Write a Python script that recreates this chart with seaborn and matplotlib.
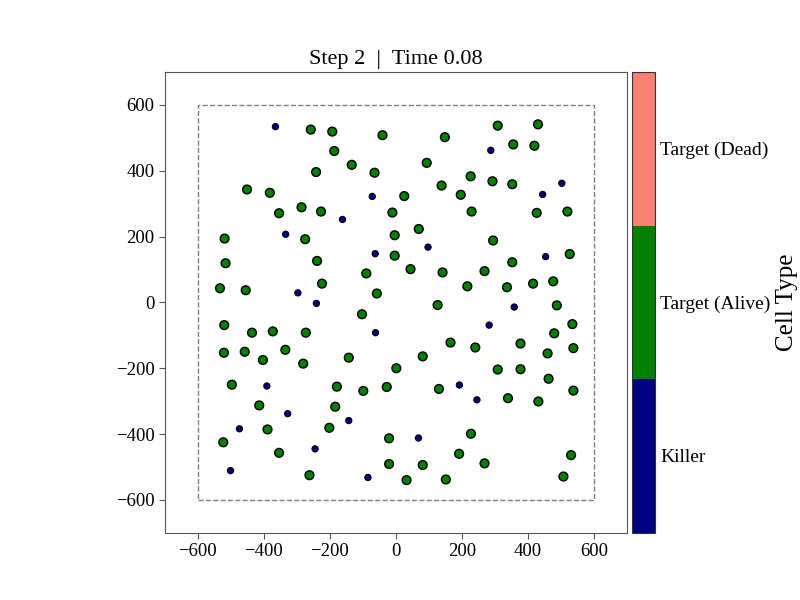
import numpy as np
import pandas as pd
import matplotlib
matplotlib.use("Agg")
import matplotlib.pyplot as plt
from matplotlib.colors import ListedColormap, BoundaryNorm
from matplotlib.cm import ScalarMappable
from matplotlib.patches import Rectangle
import seaborn as sns

# -----------------------
# Data
# -----------------------
killer_x = [-365, -72, -162, -334, -63, -297, -241, 287, 502, 444, 97, 453, 358,
            -62, -391, -328, -143, -474, -245, -501, -85, 282, 192, 245, 68]
killer_y = [534, 322, 252, 207, 148, 29, -3, 462, 362, 328, 168, 139, -14,
            -92, -254, -338, -359, -384, -445, -511, -532, -69, -251, -296, -412]

alive_x = [-258, -193, -41, -187, -134, -242, -65, -451, -382, -286, -354, -227,
           -11, -519, -275, -4, -4, -516, -239, -90, -533, -455, -224, -58,
           308, 430, 148, 355, 419, 93, 226, 138, 292, 352, 25, 196,
           229, 426, 519, 69, 294, 44, 141, 216, 268, 336, 352, 415,
           476, 526, 126, 487,
           -103, -520, -436, -373, -273, -521, -458, -403, -335, -281, -143, 1,
           -497, -179, -99, -28, -414, -184, -389, -202, -523, -21, -354, -21,
           -262,
           534, 479, 165, 240, 377, 459, 537, 81, 308, 377, 462, 130,
           339, 431, 537, 227, 191, 81, 268, 530, 32, 151, 507]
alive_y = [525, 519, 508, 460, 418, 396, 394, 343, 333, 289, 271, 276,
           273, 194, 192, 204, 142, 119, 126, 88, 43, 37, 57, 27,
           537, 541, 502, 480, 476, 424, 383, 355, 368, 359, 323, 327,
           276, 272, 276, 223, 188, 101, 91, 49, 95, 46, 122, 57,
           64, 147, -8, -9,
           -36, -69, -92, -88, -92, -153, -150, -175, -144, -186, -168, -200,
           -250, -256, -269, -257, -313, -317, -386, -381, -425, -413, -457, -491,
           -525,
           -66, -94, -122, -137, -125, -155, -139, -164, -204, -203, -232, -263,
           -291, -301, -268, -399, -460, -494, -489, -464, -540, -538, -529]

dead_x = []
dead_y = []

cell_types = ["Killer", "Target (Alive)", "Target (Dead)"]
type_colors = ["navy", "green", "salmon"]
domain_half = 600
step, time_val = 2, 0.08

df = pd.concat([
    pd.DataFrame({"x": killer_x, "y": killer_y, "type": "Killer"}),
    pd.DataFrame({"x": alive_x, "y": alive_y, "type": "Target (Alive)"}),
    pd.DataFrame({"x": dead_x, "y": dead_y, "type": "Target (Dead)"}),
], ignore_index=True)

sns.set_style("ticks")
plt.rcParams["font.family"] = ["Liberation Serif", "DejaVu Serif"]
plt.rcParams["text.color"] = "black"
plt.rcParams["axes.labelcolor"] = "black"
plt.rcParams["axes.edgecolor"] = "#555555"
plt.rcParams["xtick.color"] = "#555555"
plt.rcParams["ytick.color"] = "#555555"
plt.rcParams["xtick.labelcolor"] = "black"
plt.rcParams["ytick.labelcolor"] = "black"

fig = plt.figure(figsize=(8, 6), dpi=100)
ax = fig.add_axes([0.206, 0.112, 0.578, 0.768])
cax = fig.add_axes([0.790, 0.112, 0.029, 0.768])

palette = dict(zip(cell_types, type_colors))
killers = df[df["type"] == "Killer"]
targets = df[df["type"] != "Killer"]
sns.scatterplot(data=targets, x="x", y="y", hue="type", palette=palette,
                s=40, edgecolor="black", linewidth=1, legend=False, ax=ax, zorder=3)
sns.scatterplot(data=killers, x="x", y="y", hue="type", palette=palette,
                s=20, edgecolor="black", linewidth=0.8, legend=False, ax=ax, zorder=3)

ax.add_patch(Rectangle((-domain_half, -domain_half), 2 * domain_half, 2 * domain_half,
                       fill=False, linestyle="--", edgecolor="gray", linewidth=1))

ax.set_xlim(-700, 700)
ax.set_ylim(-700, 700)
ax.set_xticks([-600, -400, -200, 0, 200, 400, 600])
ax.set_yticks([-600, -400, -200, 0, 200, 400, 600])
ax.set_xlabel("")
ax.set_ylabel("")
ax.tick_params(labelsize=13.5, length=4)
ax.set_title(f"Step {step}  |  Time {time_val:.2f}", fontsize=16, color="black")

cmap = ListedColormap(type_colors)
norm = BoundaryNorm([-0.5, 0.5, 1.5, 2.5], cmap.N)
cb = fig.colorbar(ScalarMappable(norm=norm, cmap=cmap), cax=cax, ticks=[0, 1, 2])
cb.minorticks_off()
cb.set_ticklabels(cell_types)
cb.ax.tick_params(labelsize=14, length=0, which="both")
cb.outline.set_edgecolor("#333333")
cb.set_label("Cell Type", fontsize=18, color="black")

fig.savefig("out.png", dpi=100)
